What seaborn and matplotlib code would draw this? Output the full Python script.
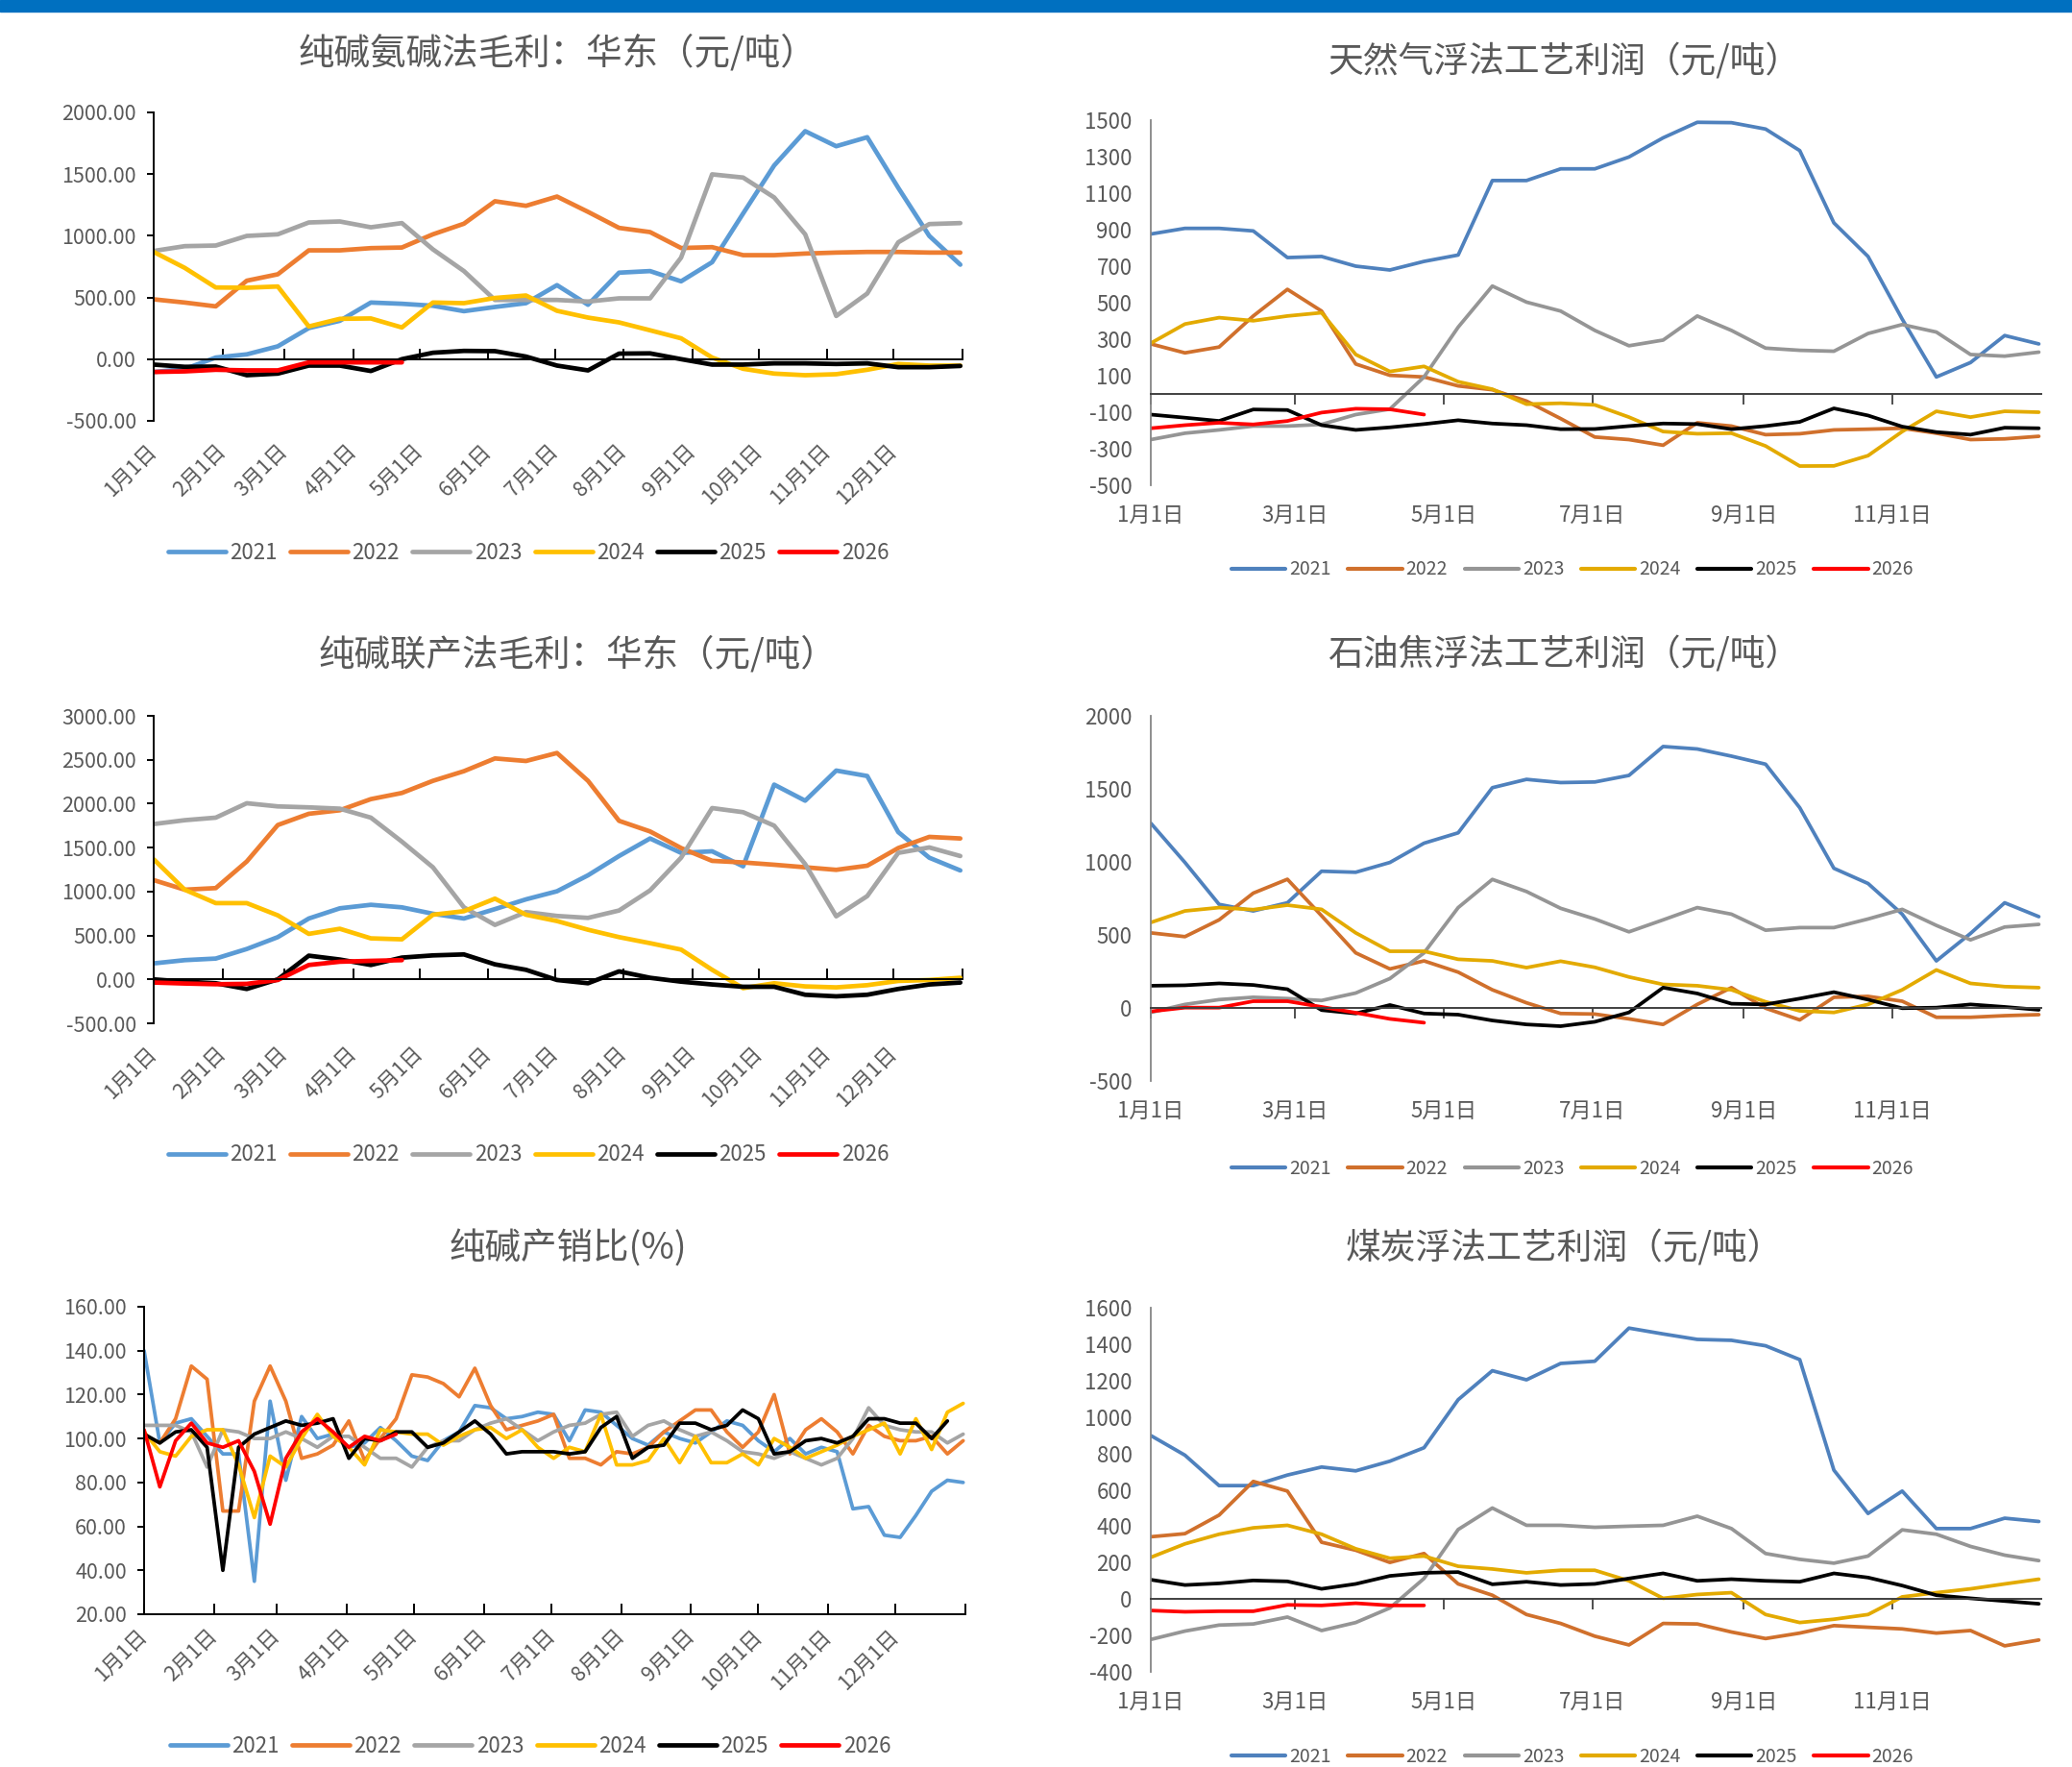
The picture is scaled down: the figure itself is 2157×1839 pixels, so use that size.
"""
plot.py - soda ash / float glass margin dashboard (six seasonal panels).
Writes: out.png
"""

import numpy as np
import pandas as pd
import matplotlib
matplotlib.use("Agg")
import matplotlib.pyplot as plt
import seaborn as sns
from matplotlib.lines import Line2D
from matplotlib.patches import Rectangle
from matplotlib.ticker import FormatStrFormatter

# ─── Data (biweekly points, day = 14*k; production/sales ratio is weekly) ─────
YEARS = [2021, 2022, 2023, 2024, 2025, 2026]

# 纯碱氨碱法毛利：华东
amm_2021 = [-104, -80, 13, 39, 104, 252, 311, 459, 449, 433, 389, 423, 454, 600, 441, 701, 714, 631, 786, 1181, 1570, 1848, 1726, 1799, 1389, 999, 766]
amm_2022 = [485, 459, 428, 636, 688, 882, 882, 900, 905, 1012, 1098, 1280, 1243, 1318, 1194, 1064, 1030, 901, 908, 843, 843, 856, 864, 869, 869, 864, 864]
amm_2023 = [877, 916, 921, 999, 1012, 1108, 1116, 1069, 1103, 890, 714, 480, 480, 480, 467, 493, 493, 823, 1498, 1472, 1311, 1012, 350, 532, 947, 1095, 1103]
amm_2024 = [869, 740, 581, 579, 589, 265, 327, 330, 257, 459, 454, 496, 516, 392, 337, 298, 234, 169, 13, -78, -117, -130, -122, -86, -39, -52, -52]
amm_2025 = [-44, -62, -60, -130, -117, -52, -52, -96, 0, 52, 67, 65, 21, -52, -91, 45, 47, 0, -44, -44, -34, -34, -39, -34, -65, -65, -55]
amm_2026 = [-104, -99, -86, -91, -91, -26, -26, -26, -26]

# 天然气浮法工艺利润
ng_2021 = [876, 907, 907, 893, 747, 753, 700, 679, 726, 761, 1169, 1169, 1233, 1233, 1298, 1403, 1488, 1486, 1451, 1333, 937, 753, 410, 93, 172, 320, 274]
ng_2022 = [274, 225, 257, 427, 573, 454, 164, 102, 93, 44, 23, -39, -135, -236, -250, -281, -158, -176, -223, -218, -197, -193, -188, -215, -250, -246, -232]
ng_2023 = [-250, -215, -197, -176, -176, -167, -113, -83, 93, 366, 591, 503, 454, 348, 264, 295, 427, 348, 251, 239, 234, 331, 380, 339, 216, 207, 229]
ng_2024 = [278, 383, 418, 401, 427, 445, 216, 123, 151, 67, 26, -56, -51, -60, -127, -206, -218, -215, -285, -395, -394, -338, -206, -95, -127, -95, -100]
ng_2025 = [-113, -130, -148, -85, -88, -171, -197, -183, -165, -144, -162, -171, -193, -192, -176, -162, -165, -193, -176, -153, -79, -118, -179, -209, -223, -185, -188]
ng_2026 = [-188, -171, -158, -167, -148, -102, -81, -84, -113]

# 纯碱联产法毛利：华东
jnt_2021 = [182, 219, 237, 346, 481, 693, 809, 849, 820, 747, 693, 800, 911, 1003, 1185, 1404, 1604, 1440, 1458, 1287, 2217, 2034, 2377, 2315, 1677, 1385, 1240]
jnt_2022 = [1130, 1021, 1039, 1342, 1757, 1885, 1925, 2052, 2122, 2260, 2370, 2515, 2486, 2577, 2260, 1805, 1684, 1495, 1349, 1331, 1305, 1276, 1247, 1294, 1495, 1622, 1604]
jnt_2023 = [1768, 1812, 1841, 2005, 1969, 1958, 1943, 1841, 1568, 1276, 820, 620, 766, 722, 700, 784, 1013, 1385, 1950, 1903, 1750, 1312, 718, 948, 1440, 1502, 1404]
jnt_2024 = [1367, 1021, 868, 868, 729, 518, 576, 467, 456, 736, 776, 919, 736, 664, 565, 481, 412, 339, 109, -100, -44, -80, -91, -66, -18, -7, 18]
jnt_2025 = [0, -26, -44, -109, 0, 270, 226, 164, 248, 273, 284, 171, 109, -7, -44, 91, 18, -26, -58, -84, -84, -175, -193, -175, -109, -58, -36]
jnt_2026 = [-36, -47, -55, -51, -7, 164, 201, 211, 219]

# 石油焦浮法工艺利润
pc_2021 = [1265, 996, 709, 664, 720, 936, 929, 996, 1128, 1199, 1508, 1565, 1543, 1547, 1592, 1790, 1773, 1724, 1669, 1371, 956, 852, 642, 322, 510, 720, 625]
pc_2022 = [514, 488, 603, 786, 881, 631, 377, 267, 322, 245, 124, 35, -38, -42, -75, -113, 24, 139, -2, -82, 73, 79, 46, -64, -64, -53, -46]
pc_2023 = [-31, 24, 57, 73, 64, 51, 102, 201, 377, 687, 880, 797, 682, 609, 521, 603, 687, 642, 532, 550, 550, 609, 675, 565, 466, 554, 572]
pc_2024 = [585, 664, 687, 673, 704, 675, 514, 388, 388, 333, 322, 276, 320, 278, 212, 161, 152, 124, 42, -20, -31, 24, 124, 260, 168, 146, 139]
pc_2025 = [152, 155, 168, 157, 128, -15, -38, 20, -38, -46, -86, -113, -125, -95, -31, 139, 99, 29, 24, 64, 108, 57, -2, 2, 24, 7, -13]
pc_2026 = [-24, 2, 2, 46, 46, 7, -33, -75, -101]

# 纯碱产销比(%) - weekly
ps_2021 = [140, 98, 107, 109, 101, 93, 93, 35, 117, 81, 110, 100, 102, 96, 98, 105, 99, 92, 90, 99, 103, 115, 114, 109, 110, 112, 111, 99, 113, 112, 106, 100, 97, 103, 100, 98, 103, 108, 106, 99, 94, 100, 93, 96, 94, 68, 69, 56, 55, 65, 76, 81, 80]
ps_2022 = [101, 98, 109, 133, 127, 67, 67, 117, 133, 117, 91, 93, 97, 108, 90, 100, 109, 129, 128, 125, 119, 132, 115, 104, 106, 108, 111, 91, 91, 88, 94, 93, 96, 103, 108, 113, 113, 103, 96, 103, 120, 93, 104, 109, 103, 93, 106, 101, 99, 99, 101, 93, 99]
ps_2023 = [106, 106, 106, 103, 87, 104, 103, 100, 100, 103, 100, 96, 101, 101, 96, 91, 91, 87, 96, 99, 99, 104, 107, 109, 104, 99, 103, 106, 107, 111, 112, 101, 106, 108, 104, 101, 103, 99, 94, 93, 91, 94, 91, 88, 91, 100, 114, 106, 104, 103, 103, 98, 102]
ps_2024 = [103, 94, 92, 101, 104, 104, 88, 64, 92, 87, 100, 111, 101, 96, 88, 104, 103, 102, 102, 97, 101, 104, 105, 100, 104, 96, 91, 96, 94, 111, 88, 88, 90, 100, 89, 101, 89, 89, 93, 88, 100, 96, 91, 94, 97, 101, 104, 107, 93, 109, 95, 112, 116]
ps_2025 = [102, 98, 103, 104, 96, 40, 96, 102, 105, 108, 106, 107, 109, 91, 100, 99, 103, 103, 96, 98, 103, 108, 102, 93, 94, 94, 94, 93, 94, 105, 110, 91, 96, 97, 107, 107, 104, 106, 113, 109, 93, 94, 99, 100, 98, 101, 109, 109, 107, 107, 100, 108]
ps_2026 = [104, 78, 99, 107, 98, 96, 99, 85, 61, 91, 103, 109, 103, 96, 101, 99, 102]

# 煤炭浮法工艺利润
coal_2021 = [898, 790, 623, 623, 681, 725, 704, 757, 831, 1095, 1254, 1204, 1294, 1306, 1488, 1456, 1426, 1421, 1391, 1315, 708, 470, 593, 387, 387, 444, 426]
coal_2022 = [342, 359, 461, 646, 593, 312, 268, 201, 250, 83, 21, -85, -134, -204, -252, -134, -137, -181, -217, -187, -146, -155, -164, -187, -173, -257, -225]
coal_2023 = [-222, -176, -143, -137, -99, -173, -129, -49, 113, 382, 500, 405, 405, 394, 400, 405, 455, 387, 250, 218, 197, 236, 380, 356, 289, 241, 211]
coal_2024 = [229, 303, 356, 391, 405, 356, 276, 224, 236, 180, 165, 144, 158, 158, 100, 4, 25, 35, -85, -129, -111, -85, 12, 35, 56, 83, 109]
coal_2025 = [106, 77, 86, 102, 97, 56, 83, 127, 144, 148, 81, 95, 77, 83, 113, 141, 100, 109, 100, 95, 141, 118, 74, 21, 4, -11, -26]
coal_2026 = [-63, -70, -67, -67, -32, -35, -23, -35, -35]

MONTH_DAYS   = [0, 31, 59, 90, 120, 151, 181, 212, 243, 273, 304, 334]
MONTH_LABELS = [f"{m}月1日" for m in range(1, 13)]
BIMONTH_DAYS   = [0, 59, 120, 181, 243, 304]
BIMONTH_LABELS = ["1月1日", "3月1日", "5月1日", "7月1日", "9月1日", "11月1日"]

LEFT_COLORS  = ["#5B9BD5", "#ED7D31", "#A5A5A5", "#FFC000", "#000000", "#FF0000"]
RIGHT_COLORS = ["#4F81BD", "#D0702C", "#959595", "#E3AA00", "#000000", "#FF0000"]

TEXT = "#595959"
W, H = 2157, 1839

sns.set_theme(style="white")
plt.rcParams["font.family"] = ["Noto Sans CJK SC", "DejaVu Sans"]
plt.rcParams["axes.unicode_minus"] = False


def to_frame(series, step):
    frames = []
    for year, vals in zip(YEARS, series):
        frames.append(pd.DataFrame({"day": step * np.arange(len(vals)),
                                    "value": vals, "year": str(year)}))
    return pd.concat(frames, ignore_index=True)


def add_axes(x0, y0, x1, y1):
    return fig.add_axes([x0 / W, 1 - y1 / H, (x1 - x0) / W, (y1 - y0) / H])


def draw(ax, series, step, colors, lw):
    df = to_frame(series, step)
    pal = dict(zip([str(y) for y in YEARS], colors))
    sns.lineplot(data=df, x="day", y="value", hue="year", palette=pal,
                 linewidth=lw, estimator=None, sort=False, legend=False, ax=ax)
    ax.set_xlabel(""); ax.set_ylabel("")


def legend(ax, colors, cx, cy, lw, fs, hl, cs):
    handles = [Line2D([], [], color=c, lw=lw) for c in colors]
    ax.legend(handles, [str(y) for y in YEARS], loc="center",
              bbox_to_anchor=(cx / W, 1 - cy / H), bbox_transform=fig.transFigure,
              ncol=6, frameon=False, handlelength=hl, handletextpad=0.2,
              columnspacing=cs, fontsize=fs, labelcolor=TEXT)


def title(text, cx, cy, fs):
    fig.text(cx / W, 1 - cy / H, text, ha="center", va="center",
             fontsize=fs, color=TEXT)


def style_left(ax, yticks, zero_axis=True):
    ax.set_xlim(0, 365)
    ax.set_ylim(yticks[0], yticks[-1])
    ax.set_yticks(yticks)
    ax.yaxis.set_major_formatter(FormatStrFormatter("%.2f"))
    ax.set_xticks(MONTH_DAYS + [365])
    ax.set_xticklabels(MONTH_LABELS + [""])
    ax.spines["right"].set_visible(False)
    ax.spines["left"].set_color("black")
    ax.spines["left"].set_linewidth(1.4)
    if zero_axis:
        ax.spines["bottom"].set_visible(False)
        ax.spines["top"].set_position(("data", 0))
        ax.spines["top"].set_color("black")
        ax.spines["top"].set_linewidth(1.4)
        ax.tick_params(axis="x", top=True, bottom=False, labeltop=False,
                       labelbottom=True, direction="out", length=8, width=1.4,
                       color="black", pad=12)
    else:
        ax.spines["top"].set_visible(False)
        ax.spines["bottom"].set_color("black")
        ax.spines["bottom"].set_linewidth(1.4)
        ax.tick_params(axis="x", bottom=True, direction="in", length=8,
                       width=1.4, color="black", pad=14)
    ax.tick_params(axis="y", left=True, direction="out", length=5, width=1.4,
                   color="black", pad=8)
    ax.tick_params(labelsize=15.5, labelcolor=TEXT)
    for lab in ax.get_xticklabels():
        lab.set_rotation(45); lab.set_ha("right"); lab.set_va("center")
        lab.set_rotation_mode("anchor")


def style_right(ax, yticks, ylim):
    ax.set_xlim(0, 365)
    ax.set_ylim(*ylim)
    ax.set_yticks(yticks)
    ax.set_xticks(BIMONTH_DAYS)
    ax.set_xticklabels(BIMONTH_LABELS)
    ax.spines["right"].set_visible(False)
    ax.spines["bottom"].set_visible(False)
    ax.spines["left"].set_color("#868686")
    ax.spines["left"].set_linewidth(1.3)
    ax.spines["top"].set_position(("data", 0))
    ax.spines["top"].set_color("#404040")
    ax.spines["top"].set_linewidth(1.4)
    ax.tick_params(axis="x", top=True, bottom=False, labeltop=False,
                   labelbottom=True, direction="in", length=8, width=1.3,
                   color="#404040", pad=14)
    ax.tick_params(axis="y", left=False, pad=8)
    ax.tick_params(labelsize=16, labelcolor=TEXT)


# ─── Figure ───────────────────────────────────────────────────────────────────
fig = plt.figure(figsize=(W / 100, H / 100), dpi=100)
fig.patches.append(Rectangle((0, 1 - 12 / H), 1, 12 / H, transform=fig.transFigure,
                             color="#0070C0", zorder=0))

# left column
ax1 = add_axes(160, 117, 1002, 438)
draw(ax1, [amm_2021, amm_2022, amm_2023, amm_2024, amm_2025, amm_2026], 14, LEFT_COLORS, 3.4)
style_left(ax1, list(range(-500, 2001, 500)))
title("纯碱氨碱法毛利：华东（元/吨）", 580, 56, 27)
legend(ax1, LEFT_COLORS, 550, 575, 3.4, 16, 2.7, 0.6)

ax3 = add_axes(160, 745, 1002, 1065)
draw(ax3, [jnt_2021, jnt_2022, jnt_2023, jnt_2024, jnt_2025, jnt_2026], 14, LEFT_COLORS, 3.4)
style_left(ax3, list(range(-500, 3001, 500)))
title("纯碱联产法毛利：华东（元/吨）", 601, 682, 27)
legend(ax3, LEFT_COLORS, 550, 1202, 3.4, 16, 2.7, 0.6)

ax5 = add_axes(150, 1360, 1005, 1680)
draw(ax5, [ps_2021, ps_2022, ps_2023, ps_2024, ps_2025, ps_2026], 7, LEFT_COLORS, 2.7)
style_left(ax5, list(range(20, 161, 20)), zero_axis=False)
title("纯碱产销比(%)", 591, 1300, 27)
legend(ax5, LEFT_COLORS, 552, 1817, 3.4, 16, 2.7, 0.6)

# right column
ax2 = add_axes(1198, 125, 2125, 505)
draw(ax2, [ng_2021, ng_2022, ng_2023, ng_2024, ng_2025, ng_2026], 14, RIGHT_COLORS, 2.7)
style_right(ax2, list(range(-500, 1501, 200)), (-500, 1500))
title("天然气浮法工艺利润（元/吨）", 1628, 65, 26.5)
legend(ax2, RIGHT_COLORS, 1637, 593, 3.0, 14, 2.9, 0.9)

ax4 = add_axes(1198, 745, 2125, 1125)
draw(ax4, [pc_2021, pc_2022, pc_2023, pc_2024, pc_2025, pc_2026], 14, RIGHT_COLORS, 2.7)
style_right(ax4, list(range(-500, 2001, 500)), (-500, 2000))
title("石油焦浮法工艺利润（元/吨）", 1628, 682, 26.5)
legend(ax4, RIGHT_COLORS, 1637, 1216, 3.0, 14, 2.9, 0.9)

ax6 = add_axes(1198, 1361, 2125, 1740)
draw(ax6, [coal_2021, coal_2022, coal_2023, coal_2024, coal_2025, coal_2026], 14, RIGHT_COLORS, 2.7)
style_right(ax6, list(range(-400, 1601, 200)), (-400, 1600))
title("煤炭浮法工艺利润（元/吨）", 1628, 1300, 26.5)
legend(ax6, RIGHT_COLORS, 1637, 1828, 3.0, 14, 2.9, 0.9)

fig.savefig("out.png", dpi=100)
plt.close(fig)
